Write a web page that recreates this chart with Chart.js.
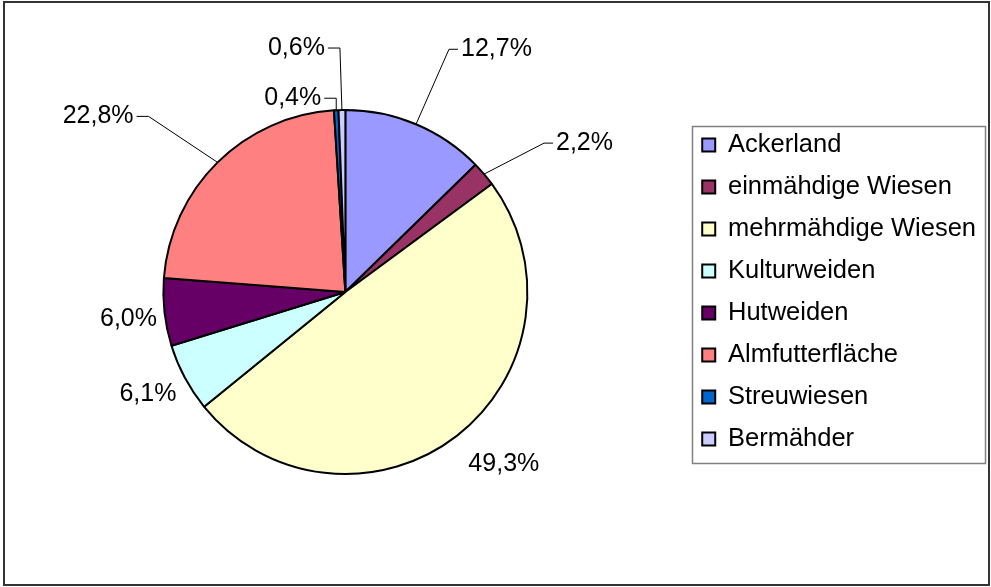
<!DOCTYPE html>
<html>
<head>
<meta charset="utf-8">
<script src="https://cdn.jsdelivr.net/npm/chart.js@4/dist/chart.umd.min.js"></script>
<style>
  html, body { margin: 0; padding: 0; background: #fff; }
  #wrap { width: 991px; height: 587px; }
</style>
</head>
<body>
<div id="wrap"><canvas id="chart-pie" width="991" height="587"></canvas></div>
<script>
// Daten (Anteile in %)
const categories = ['Ackerland', 'einmähdige Wiesen', 'mehrmähdige Wiesen', 'Kulturweiden',
                    'Hutweiden', 'Almfutterfläche', 'Streuwiesen', 'Bermähder'];
const shares = [12.7, 2.2, 49.3, 6.1, 6.0, 22.8, 0.4, 0.6];
const sliceColors = ['#9999FF', '#993366', '#FFFFCC', '#CCFFFF',
                     '#660066', '#FF8080', '#0066CC', '#CCCCFF'];

const FONT = '"Liberation Sans", Arial, sans-serif';

// Beschriftung: Versatz vom Bogenrand (Knick der Fuehrungslinie) bzw. Textmitte
const labelPlacement = [
    { elbow: [33, -75], side: 'right' },
    { elbow: [60, -31], side: 'right' },
    { center: [47, 28] },
    { center: [-37, 16] },
    { center: [-36, 7] },
    { elbow: [-69, -46], side: 'left' },
    { elbow: [0, -12], side: 'left' },
    { elbow: [-2, -62], side: 'left' }
];

const frame = {
    id: 'frame',
    beforeDraw(chart) {
        const ctx = chart.ctx;
        ctx.save();
        ctx.fillStyle = '#fff';
        ctx.fillRect(0, 0, chart.width, chart.height);
        ctx.strokeStyle = '#333';
        ctx.lineWidth = 2;
        ctx.strokeRect(4, 2, 985, 583);
        ctx.restore();
    },
    afterDraw(chart) {
        // Rahmen um die Legende
        const lg = chart.legend;
        if (!lg || !lg.legendHitBoxes.length) return;
        const hb = lg.legendHitBoxes;
        const first = hb[0], last = hb[hb.length - 1];
        const left = first.left - 10;
        const right = Math.max(...hb.map(h => h.left + h.width)) + 9;
        const top = first.top + first.height / 2 - 19;
        const bottom = last.top + last.height / 2 + 24;
        const ctx = chart.ctx;
        ctx.save();
        ctx.strokeStyle = '#808080';
        ctx.lineWidth = 1.5;
        ctx.strokeRect(Math.round(left) + 0.5, Math.round(top) + 0.5,
                       Math.round(right - left), Math.round(bottom - top));
        ctx.restore();
    }
};

const leaderLabels = {
    id: 'leaderLabels',
    afterDatasetsDraw(chart) {
        const ctx = chart.ctx;
        const arcs = chart.getDatasetMeta(0).data;
        ctx.save();
        ctx.font = '25px ' + FONT;
        ctx.fillStyle = '#000';
        ctx.strokeStyle = '#000';
        ctx.lineWidth = 1;
        ctx.textBaseline = 'middle';
        arcs.forEach((arc, i) => {
            const p = arc.getProps(['x', 'y', 'startAngle', 'endAngle', 'outerRadius'], true);
            const mid = (p.startAngle + p.endAngle) / 2;
            const ex = p.x + Math.cos(mid) * p.outerRadius;
            const ey = p.y + Math.sin(mid) * p.outerRadius;
            const text = shares[i].toFixed(1).replace('.', ',') + '%';
            const pl = labelPlacement[i];
            if (pl.elbow) {
                const kx = ex + pl.elbow[0];
                const ky = ey + pl.elbow[1];
                const dir = pl.side === 'right' ? 1 : -1;
                const tickLen = pl.side === 'right' ? 9 : 12;
                ctx.beginPath();
                ctx.moveTo(ex, ey);
                ctx.lineTo(kx, ky);
                ctx.lineTo(kx + dir * tickLen, ky);
                ctx.stroke();
                ctx.textAlign = pl.side === 'right' ? 'left' : 'right';
                ctx.fillText(text, kx + dir * (tickLen + 3), ky);
            } else {
                ctx.textAlign = 'center';
                ctx.fillText(text, ex + pl.center[0], ey + pl.center[1]);
            }
        });
        ctx.restore();
    }
};

const ctx = document.getElementById('chart-pie');
new Chart(ctx, {
    type: 'pie',
    data: {
        labels: categories,
        datasets: [{
            data: shares,
            backgroundColor: sliceColors,
            borderColor: '#000',
            borderWidth: 2
        }]
    },
    options: {
        responsive: false,
        animation: false,
        events: [],
        layout: {
            padding: { left: 5, right: 5, top: 109, bottom: 112 }
        },
        plugins: {
            title: { display: false },
            tooltip: { enabled: false },
            legend: {
                position: 'right',
                labels: {
                    font: { family: FONT, size: 25.5 },
                    color: '#000',
                    boxWidth: 13,
                    boxHeight: 13,
                    padding: 16.5
                }
            }
        }
    },
    plugins: [frame, leaderLabels]
});
</script>
</body>
</html>
